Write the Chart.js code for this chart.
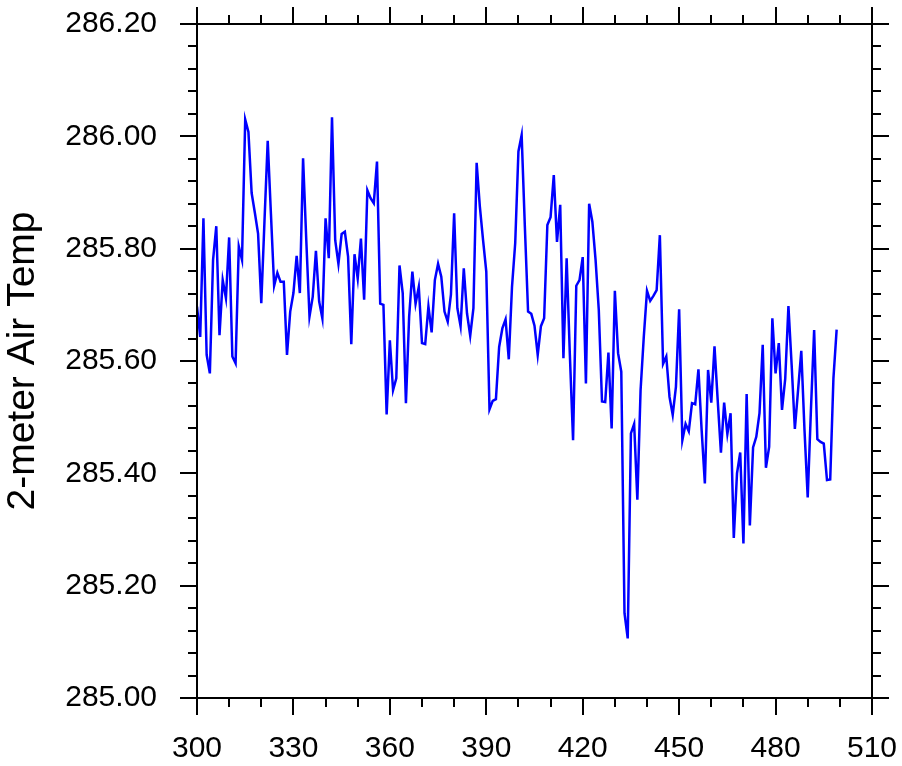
<!DOCTYPE html>
<html>
<head>
<meta charset="utf-8">
<title>2-meter Air Temp</title>
<script src="https://cdn.jsdelivr.net/npm/chart.js@4/dist/chart.umd.min.js"></script>
<style>
  html, body { margin: 0; padding: 0; background: #ffffff; }
  #chart-area { display: block; }
</style>
</head>
<body>
<canvas id="chart-area" width="902" height="766"></canvas>
<script>
// time steps 300..499, one value per step
var xStart = 300;
var tempValues = [
    285.697, 285.643, 285.854, 285.611, 285.578, 285.780, 285.840, 285.646, 285.744, 285.712,
    285.820, 285.608, 285.596, 285.804, 285.780, 286.030, 286.008, 285.899, 285.864, 285.827,
    285.703, 285.850, 285.992, 285.862, 285.734, 285.757, 285.741, 285.741, 285.611, 285.688,
    285.721, 285.787, 285.721, 285.961, 285.815, 285.679, 285.714, 285.796, 285.706, 285.676,
    285.854, 285.783, 286.034, 285.815, 285.773, 285.826, 285.830, 285.786, 285.630, 285.790,
    285.747, 285.818, 285.709, 285.904, 285.890, 285.881, 285.955, 285.702, 285.700, 285.505,
    285.637, 285.548, 285.569, 285.770, 285.721, 285.525, 285.679, 285.759, 285.702, 285.732,
    285.632, 285.630, 285.697, 285.651, 285.744, 285.773, 285.750, 285.688, 285.670, 285.718,
    285.863, 285.694, 285.662, 285.765, 285.685, 285.645, 285.694, 285.953, 285.875, 285.815,
    285.759, 285.514, 285.529, 285.532, 285.625, 285.658, 285.674, 285.603, 285.732, 285.810,
    285.973, 286.002, 285.839, 285.688, 285.684, 285.663, 285.611, 285.662, 285.676, 285.842,
    285.856, 285.931, 285.812, 285.878, 285.605, 285.783, 285.611, 285.459, 285.734, 285.744,
    285.785, 285.560, 285.880, 285.848, 285.780, 285.691, 285.528, 285.527, 285.615, 285.480,
    285.725, 285.614, 285.581, 285.151, 285.106, 285.471, 285.488, 285.353, 285.548, 285.643,
    285.725, 285.707, 285.716, 285.726, 285.824, 285.595, 285.608, 285.536, 285.504, 285.554,
    285.692, 285.459, 285.488, 285.475, 285.525, 285.523, 285.585, 285.477, 285.382, 285.584,
    285.526, 285.626, 285.530, 285.437, 285.526, 285.470, 285.507, 285.285, 285.400, 285.437,
    285.275, 285.541, 285.307, 285.446, 285.465, 285.507, 285.629, 285.410, 285.447, 285.676,
    285.578, 285.632, 285.513, 285.568, 285.698, 285.593, 285.479, 285.548, 285.618, 285.477,
    285.357, 285.513, 285.655, 285.461, 285.456, 285.453, 285.388, 285.389, 285.569, 285.656
];

var xTicks = [300, 330, 360, 390, 420, 450, 480, 510];
var yTicks = [285.00, 285.20, 285.40, 285.60, 285.80, 286.00, 286.20];
var xMinorStep = 10;
var yMinorStep = 0.04;
var yTitle = '2-meter Air Temp';

var points = tempValues.map(function (v, i) {
    return { x: xStart + i, y: v };
});

var FONT = 'Liberation Sans, Arial, Helvetica, sans-serif';

// box around plot + outward ticks on all four sides
var frameTicks = {
    id: 'frameTicks',
    afterDraw: function (chart) {
        var ctx = chart.ctx;
        var a = chart.chartArea;
        var xs = chart.scales.x;
        var ys = chart.scales.y;
        var majorLen = 17, minorLen = 9;

        ctx.save();
        ctx.strokeStyle = '#000000';
        ctx.lineWidth = 2;
        ctx.lineCap = 'butt';
        ctx.beginPath();

        function xTick(v, len) {
            var px = Math.round(xs.getPixelForValue(v));
            ctx.moveTo(px, a.bottom); ctx.lineTo(px, a.bottom + len);
            ctx.moveTo(px, a.top); ctx.lineTo(px, a.top - len);
        }
        function yTick(v, len) {
            var py = Math.round(ys.getPixelForValue(v));
            ctx.moveTo(a.left, py); ctx.lineTo(a.left - len, py);
            ctx.moveTo(a.right, py); ctx.lineTo(a.right + len, py);
        }

        for (var x = xTicks[0]; x <= xTicks[xTicks.length - 1] + 0.001; x += xMinorStep) {
            xTick(x, xTicks.indexOf(Math.round(x)) >= 0 ? majorLen : minorLen);
        }
        var n = Math.round((yTicks[yTicks.length - 1] - yTicks[0]) / yMinorStep);
        for (var k = 0; k <= n; k++) {
            yTick(yTicks[0] + k * yMinorStep, k % 5 === 0 ? majorLen : minorLen);
        }
        ctx.rect(a.left, a.top, a.right - a.left, a.bottom - a.top);
        ctx.stroke();
        ctx.restore();
    }
};

var config = {
    type: 'line',
    data: {
        datasets: [{
            data: points,
            borderColor: 'rgb(0, 0, 255)',
            borderWidth: 2.5,
            pointRadius: 0,
            tension: 0,
            fill: false
        }]
    },
    options: {
        responsive: false,
        animation: false,
        devicePixelRatio: 1,
        layout: {
            padding: { top: 24, right: 30, bottom: 0, left: 0 }
        },
        plugins: {
            legend: { display: false },
            tooltip: { enabled: false }
        },
        scales: {
            x: {
                type: 'linear',
                min: xTicks[0],
                max: xTicks[xTicks.length - 1],
                afterBuildTicks: function (scale) {
                    scale.ticks = xTicks.map(function (v) { return { value: v }; });
                },
                afterFit: function (scale) {
                    scale.height = 68;
                    scale.paddingLeft = 0;
                    scale.paddingRight = 0;
                },
                grid: { display: false, drawTicks: false },
                border: { display: false },
                ticks: {
                    color: '#000000',
                    font: { family: FONT, size: 30 },
                    padding: 33,
                    maxRotation: 0,
                    autoSkip: false,
                    callback: function (v) { return String(v); }
                }
            },
            y: {
                min: yTicks[0],
                max: yTicks[yTicks.length - 1],
                afterBuildTicks: function (scale) {
                    scale.ticks = yTicks.map(function (v) { return { value: v }; });
                },
                afterFit: function (scale) {
                    scale.width = 197;
                    scale.paddingTop = 0;
                    scale.paddingBottom = 0;
                },
                grid: { display: false, drawTicks: false },
                border: { display: false },
                title: {
                    display: true,
                    text: yTitle,
                    color: '#000000',
                    font: { family: FONT, size: 39 },
                    padding: 0
                },
                ticks: {
                    color: '#000000',
                    font: { family: FONT, size: 30 },
                    padding: 40,
                    autoSkip: false,
                    callback: function (v) { return Number(v).toFixed(2); }
                }
            }
        }
    },
    plugins: [frameTicks]
};

var ctx = document.getElementById('chart-area').getContext('2d');
var myChart = new Chart(ctx, config);
</script>
</body>
</html>
